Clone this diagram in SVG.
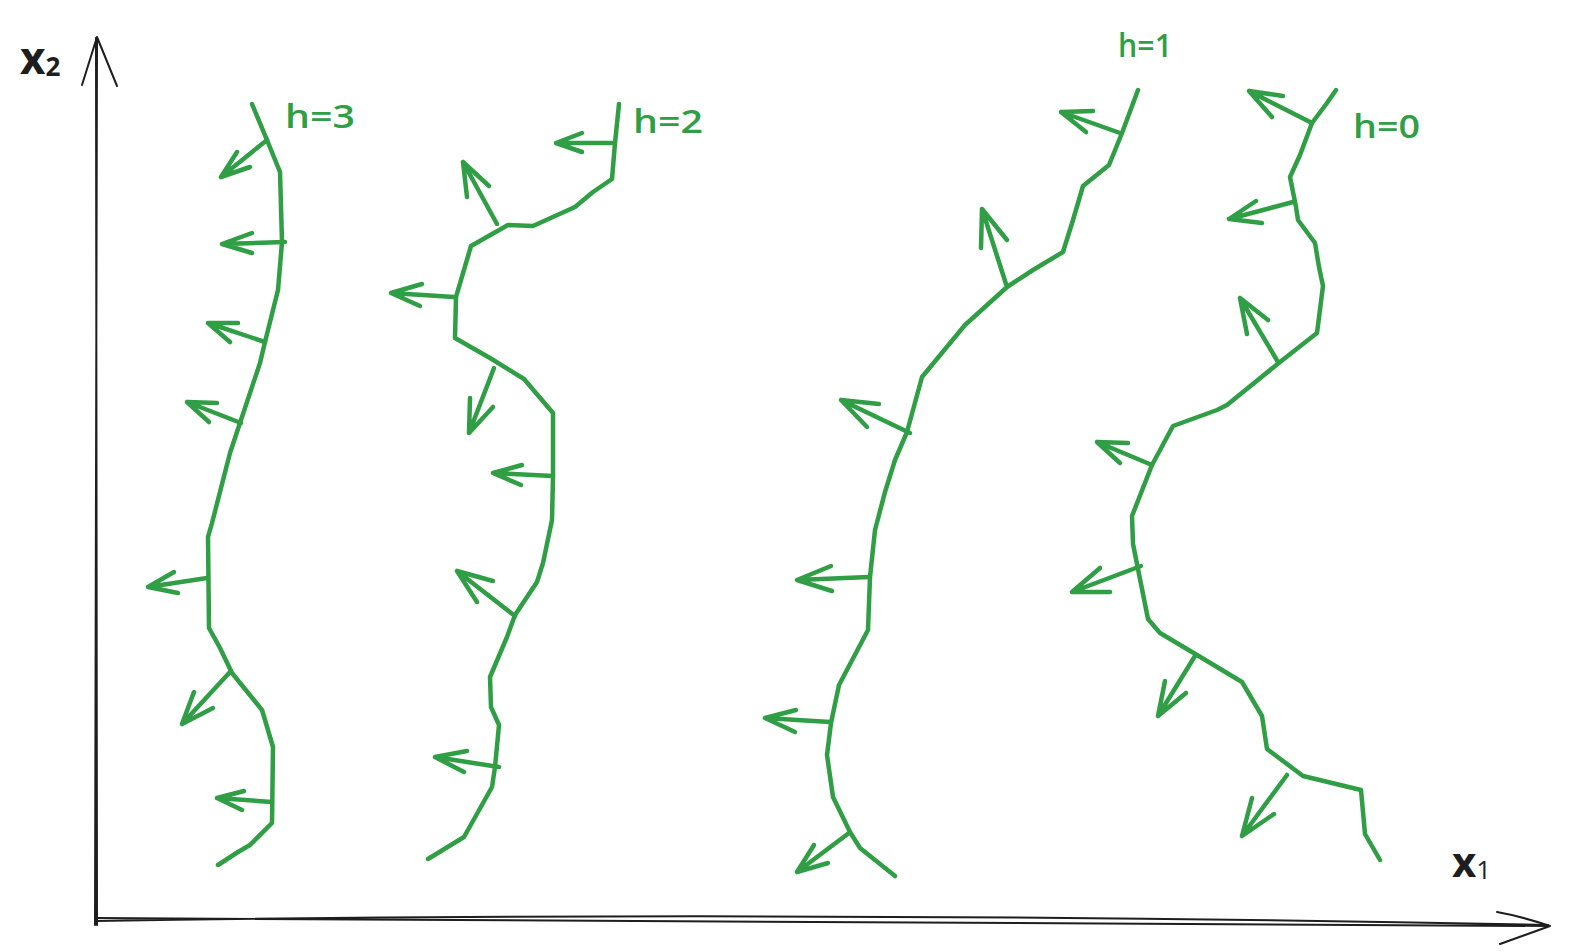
<svg xmlns="http://www.w3.org/2000/svg" width="1570" height="952" viewBox="0 0 1570 952">
<style>
.g{fill:none;stroke:#2f9e44;stroke-width:4.5;stroke-linecap:round;stroke-linejoin:round}
.ax{fill:none;stroke:#1e1e1e;stroke-width:2;stroke-linecap:round;stroke-linejoin:round}
.lbl{font-family:"Open Sans","Liberation Sans",sans-serif;fill:#2f9e44;font-size:32px;font-weight:600}
.axl{font-family:"Open Sans","Liberation Sans",sans-serif;fill:#1e1e1e;font-weight:bold}
</style>
<rect width="1570" height="952" fill="#ffffff"/>
<g id="axes">
<path class="ax" d="M97 925 L96 38 M95 925 Q97 500 97 40"/>
<path class="ax" d="M82 85 L97 37 L117 86"/>
<path class="ax" d="M95 918 L1548 926 M95 921 Q800 910 1548 925"/>
<path class="ax" d="M1497 912 Q1520 916 1550 926 L1500 944"/>
<text class="axl" x="20" y="74" font-size="44">x<tspan font-size="26" dy="2">2</tspan></text>
<text class="axl" x="1452" y="877" font-size="42">x<tspan font-size="26" font-weight="normal" dy="2">1</tspan></text>
</g>
<g id="level-h3">
<polyline class="g" points="252,104 267,140 280,172 282,242 278,290 265,342 260,363 240,423 230,453 212,523 208,537 209,628 220,648 232,673 262,710 265,720 273,747 272,823 250,845 238,852 218,865"/>
<path class="g" d="M267,140 L221,177 M237,152 L221,177 L250,167"/>
<path class="g" d="M285,242 L222,244 M252,233 L222,244 L252,253"/>
<path class="g" d="M265,342 L208,323 M238,323 L208,323 L230,342"/>
<path class="g" d="M241,423 L187,402 M217,403 L187,402 L209,422"/>
<path class="g" d="M207,578 L148,587 M174,572 L148,587 L178,593"/>
<path class="g" d="M230,672 L182,724 M194,692 L182,724 L213,708"/>
<path class="g" d="M272,802 L217,798 M244,791 L217,798 L242,810"/>
<text class="lbl" x="285" y="128" textLength="70" lengthAdjust="spacingAndGlyphs">h=3</text>
</g>
<g id="level-h2">
<polyline class="g" points="619,104 615,143 612,179 593,192 575,207 533,226 508,225 471,246 456,297 455,338 490,358 524,379 553,413 553,477 552,520 543,563 537,582 515,615 507,637 490,677 491,707 499,725 495,767 492,787 464,837 428,859"/>
<path class="g" d="M612,143 L556,143 M582,133 L556,143 L582,152"/>
<path class="g" d="M497,224 L463,162 M467,197 L463,162 L489,186"/>
<path class="g" d="M454,297 L391,293 M422,284 L391,293 L420,306"/>
<path class="g" d="M494,368 L469,433 M470,398 L469,433 L493,407"/>
<path class="g" d="M553,476 L493,473 M522,465 L493,473 L521,485"/>
<path class="g" d="M515,616 L457,571 M493,581 L457,571 L477,602"/>
<path class="g" d="M499,767 L435,757 M467,751 L435,757 L464,772"/>
<text class="lbl" x="633" y="133" textLength="70" lengthAdjust="spacingAndGlyphs">h=2</text>
</g>
<g id="level-h1">
<polyline class="g" points="1138,90 1122,133 1109,165 1083,186 1073,220 1063,252 1033,270 1007,287 965,325 922,377 907,432 895,460 885,492 875,530 870,577 868,630 839,685 831,723 827,755 833,797 850,832 860,848 875,860 895,876"/>
<path class="g" d="M1120,133 L1061,112 M1093,111 L1061,112 L1086,132"/>
<path class="g" d="M1006,284 L982,209 M981,248 L982,209 L1007,240"/>
<path class="g" d="M910,433 L841,400 M879,404 L841,400 L867,427"/>
<path class="g" d="M869,577 L797,580 M831,566 L797,580 L832,591"/>
<path class="g" d="M830,722 L765,718 M796,710 L765,718 L795,732"/>
<path class="g" d="M849,833 L797,872 M814,845 L797,872 L828,863"/>
<text class="lbl" x="1118" y="57" textLength="54" lengthAdjust="spacingAndGlyphs">h=1</text>
</g>
<g id="level-h0">
<polyline class="g" points="1336,90 1327,103 1312,123 1300,155 1290,177 1296,207 1298,220 1315,243 1319,267 1323,286 1317,333 1280,362 1227,405 1217,410 1173,426 1152,465 1132,516 1133,544 1148,619 1160,633 1197,655 1242,682 1262,716 1267,749 1303,776 1361,790 1365,834 1380,860"/>
<path class="g" d="M1312,123 L1249,91 M1283,96 L1249,91 L1272,117"/>
<path class="g" d="M1293,202 L1229,219 M1256,201 L1229,219 L1262,223"/>
<path class="g" d="M1278,362 L1240,298 M1247,334 L1240,298 L1268,320"/>
<path class="g" d="M1152,465 L1097,442 M1128,443 L1097,442 L1120,463"/>
<path class="g" d="M1141,566 L1072,592 M1100,568 L1072,592 L1110,592"/>
<path class="g" d="M1195,656 L1158,716 M1165,681 L1158,716 L1186,693"/>
<path class="g" d="M1287,775 L1242,836 M1252,798 L1242,836 L1274,814"/>
<text class="lbl" x="1353" y="138" textLength="67" lengthAdjust="spacingAndGlyphs">h=0</text>
</g>
</svg>
